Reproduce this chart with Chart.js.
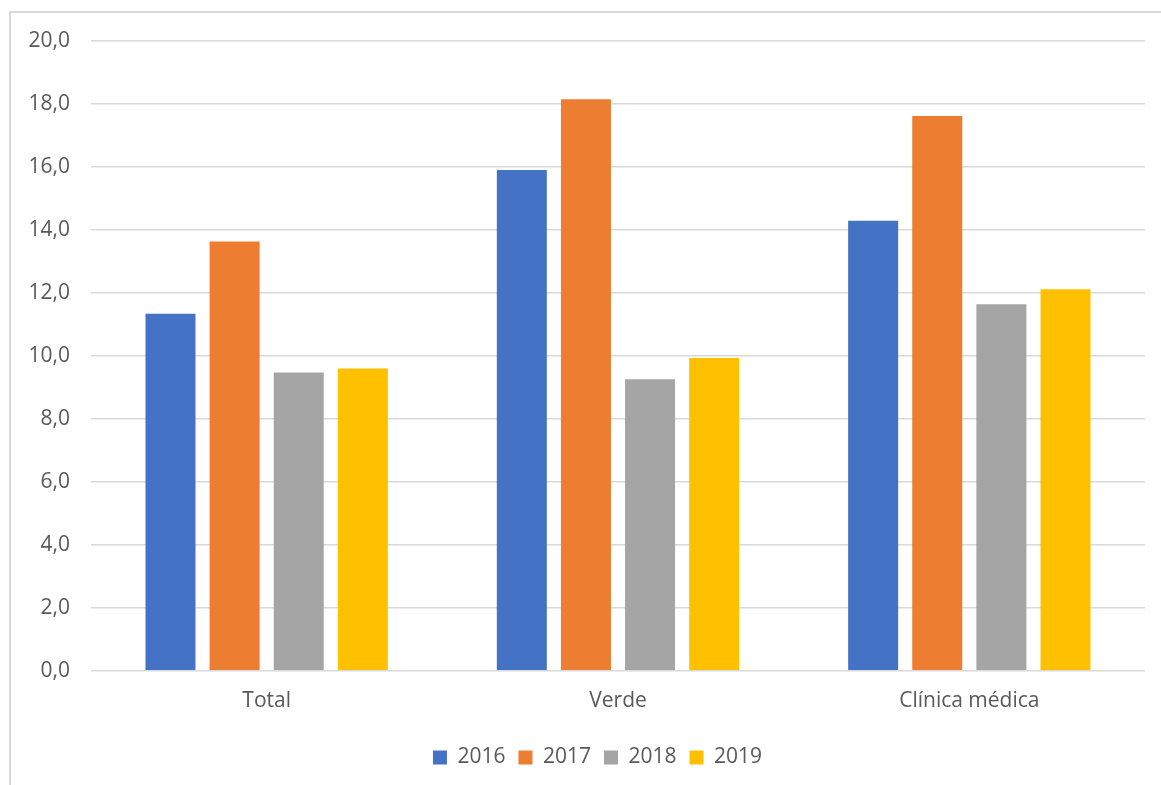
<!DOCTYPE html>
<html>
<head>
<meta charset="utf-8">
<script src="https://cdn.jsdelivr.net/npm/chart.js@4/dist/chart.umd.min.js"></script>
<style>
  html, body { margin: 0; padding: 0; background: #fff; overflow: hidden; }
  #frame { position: absolute; left: 9px; top: 11px; width: 1200px; height: 820px; border: 2px solid #d9d9d9; }
  #wrap { position: absolute; left: 0; top: 0; width: 1161px; height: 785px; }
</style>
</head>
<body>
<div id="frame"></div>
<div id="wrap"><canvas id="chart"></canvas></div>
<script>
const categories = ['Total', 'Verde', 'Clínica médica'];
const years = ['2016', '2017', '2018', '2019'];
const values2016 = [11.34, 15.90, 14.29];
const values2017 = [13.63, 18.15, 17.62];
const values2018 = [9.47, 9.26, 11.64];
const values2019 = [9.60, 9.93, 12.12];
const colors = ['#4472C4', '#ED7D31', '#A5A5A5', '#FFC000'];

const series = [values2016, values2017, values2018, values2019];
const textColor = '#595959';
const fontFamily = "'Open Sans', 'Noto Sans', sans-serif";

// the frame runs past the right edge, so the legend sits right of the canvas centre
const legendShift = {
  id: 'legendShift',
  afterLayout(chart) {
    chart.legend.left += 25;
    chart.legend.right += 25;
  }
};

new Chart(document.getElementById('chart'), {
  type: 'bar',
  data: {
    labels: categories,
    datasets: series.map((vals, i) => ({
      label: years[i],
      data: vals,
      backgroundColor: colors[i],
      borderWidth: 0,
      categoryPercentage: 0.73,
      barPercentage: 0.78
    }))
  },
  options: {
    responsive: true,
    maintainAspectRatio: false,
    animation: false,
    layout: { padding: { top: 41, right: 16, bottom: 7, left: 0 } },
    plugins: {
      tooltip: { enabled: false },
      legend: {
        position: 'bottom',
        labels: {
          color: textColor,
          font: { family: fontFamily, size: 21 },
          boxWidth: 14,
          boxHeight: 14,
          padding: 13
        }
      }
    },
    scales: {
      x: {
        afterFit: s => { s.height += 10; },
        grid: { display: false },
        border: { display: false },
        ticks: { color: textColor, font: { family: fontFamily, size: 21 }, padding: 10 }
      },
      y: {
        min: 0,
        max: 20,
        afterFit: s => { s.width = 91; },
        grid: { color: '#d9d9d9', lineWidth: 1.5, drawTicks: false },
        border: { display: false },
        ticks: {
          stepSize: 2,
          padding: 21,
          color: textColor,
          font: { family: fontFamily, size: 21 },
          callback: v => v.toFixed(1).replace('.', ',')
        }
      }
    }
  },
  plugins: [legendShift]
});
</script>
</body>
</html>
